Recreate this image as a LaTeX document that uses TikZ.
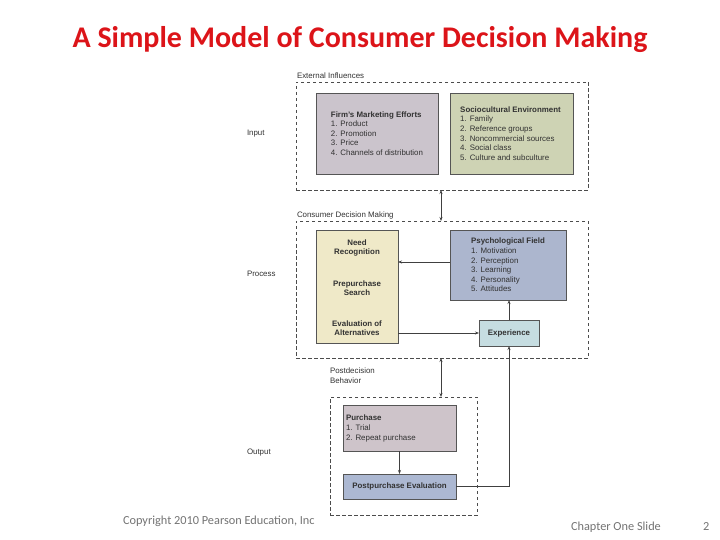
\documentclass[tikz,border=0pt]{standalone}
\usepackage{fontspec}
\setmainfont{Liberation Sans}
\newfontfamily\calib{Carlito}
\usetikzlibrary{arrows.meta}
\definecolor{titlered}{RGB}{220,20,25}
\definecolor{firmc}{RGB}{203,196,204}
\definecolor{socioc}{RGB}{206,211,180}
\definecolor{needc}{RGB}{239,233,200}
\definecolor{psychc}{RGB}{172,182,206}
\definecolor{expc}{RGB}{198,221,225}
\definecolor{purc}{RGB}{206,196,202}
\definecolor{ppec}{RGB}{172,184,210}
\definecolor{txt}{RGB}{50,50,50}
\definecolor{edge}{RGB}{85,85,85}
\begin{document}
\begin{tikzpicture}[x=1pt,y=-1pt,
  every node/.style={inner sep=0pt,outer sep=0pt},
  small/.style={font=\fontsize{7.9}{9.6}\selectfont,text=txt},
  smallb/.style={font=\fontsize{7.9}{9.6}\selectfont\bfseries,text=txt},
  boxed/.style={draw=edge,line width=0.8pt,anchor=north west},
  dbox/.style={draw=black!70,dashed,dash pattern=on 3.5pt off 2.5pt,line width=0.7pt,anchor=north west},
  arr/.style={draw=black!75,line width=0.8pt,-{Stealth[length=4pt,width=3pt]}},
  darr/.style={draw=black!75,line width=0.8pt,{Stealth[length=4pt,width=3pt]}-{Stealth[length=4pt,width=3pt]}}
]
\useasboundingbox (0,0) rectangle (720,540);
% title
\node[font=\calib\fontsize{30}{34}\selectfont\bfseries,text=titlered] (title) at (360,40) {A Simple Model of Consumer Decision Making};

% dashed groups
\node[dbox,minimum width=292pt,minimum height=108pt] (ext) at (296,82) {};
\node[dbox,minimum width=292pt,minimum height=137pt] (cdm) at (296,221) {};
\node[dbox,minimum width=147pt,minimum height=118pt] (post) at (330,397) {};

\node[small,anchor=base west] (extl) at (297,79) {External Influences};
\node[small,anchor=base west] (cdml) at (297,218) {Consumer Decision Making};
\node[small,anchor=base west,align=left,font=\fontsize{7.9}{10}\selectfont] (postl) at (330,383) {Postdecision\\Behavior};

% left labels
\node[small,anchor=base west] (inl) at (247,136) {Input};
\node[small,anchor=base west] (prl) at (247,276) {Process};
\node[small,anchor=base west] (oul) at (247,454) {Output};

% input boxes
\node[boxed,fill=firmc,minimum width=122pt,minimum height=81pt] (firm) at (316,93) {};
\node[small,align=left] (firmt) at (firm.center) {\textbf{Firm's Marketing Efforts}\\1. Product\\2. Promotion\\3. Price\\4. Channels of distribution};
\node[boxed,fill=socioc,minimum width=123pt,minimum height=81pt] (socio) at (450,93) {};
\node[small,align=left] (sociot) at ([xshift=-1pt]socio.center) {\textbf{Sociocultural Environment}\\1. Family\\2. Reference groups\\3. Noncommercial sources\\4. Social class\\5. Culture and subculture};

% process boxes
\node[boxed,fill=needc,minimum width=82pt,minimum height=113pt] (need) at (316,230) {};
\node[smallb,align=center] (needt) at (357,248) {Need\\Recognition};
\node[smallb,align=center] (pret) at (357,288) {Prepurchase\\Search};
\node[smallb,align=center] (evt) at (357,328) {Evaluation of\\Alternatives};
\node[boxed,fill=psychc,minimum width=116pt,minimum height=70pt] (psych) at (450,230) {};
\node[small,align=left] (psycht) at (psych.center) {\textbf{Psychological Field}\\1. Motivation\\2. Perception\\3. Learning\\4. Personality\\5. Attitudes};
\node[boxed,fill=expc,minimum width=60pt,minimum height=26pt] (exp) at (479,320) {};
\node[smallb] (expt) at (exp.center) {Experience};

% output boxes
\node[boxed,fill=purc,minimum width=113pt,minimum height=46pt] (pur) at (343,405) {};
\node[small,align=left,anchor=west] (purt) at (346,428.5) {\textbf{Purchase}\\1. Trial\\2. Repeat purchase};
\node[boxed,fill=ppec,minimum width=113pt,minimum height=25pt] (ppe) at (343,474) {};
\node[smallb] (ppet) at (ppe.center) {Postpurchase Evaluation};

% connectors
\coordinate (ax) at (441,0);
\coordinate (ry) at (0,262);
\draw[darr] (ext.south -| ax) -- (cdm.north -| ax);
\draw[darr] (cdm.south -| ax) -- (post.north -| ax);
\draw[arr] (psych.west |- ry) -- (need.east |- ry);
\draw[arr] (need.east |- exp.west) -- (exp.west);
\draw[arr] (exp.north) -- (psych.south -| exp.north);
\draw[arr] (ppe.east) -| (exp.south);
\draw[arr] (pur.south) -- (ppe.north);

% footer
\node[font=\calib\fontsize{12.3}{14}\selectfont,text=black!55,anchor=base west] (copy) at (123,524) {Copyright 2010 Pearson Education, Inc};
\node[font=\calib\fontsize{12.3}{14}\selectfont,text=black!55,anchor=base west] (chap) at (571,530) {Chapter One Slide};
\node[font=\calib\fontsize{12.3}{14}\selectfont,text=black!55,anchor=base west] (pg) at (703,530) {2};
\end{tikzpicture}
\end{document}
